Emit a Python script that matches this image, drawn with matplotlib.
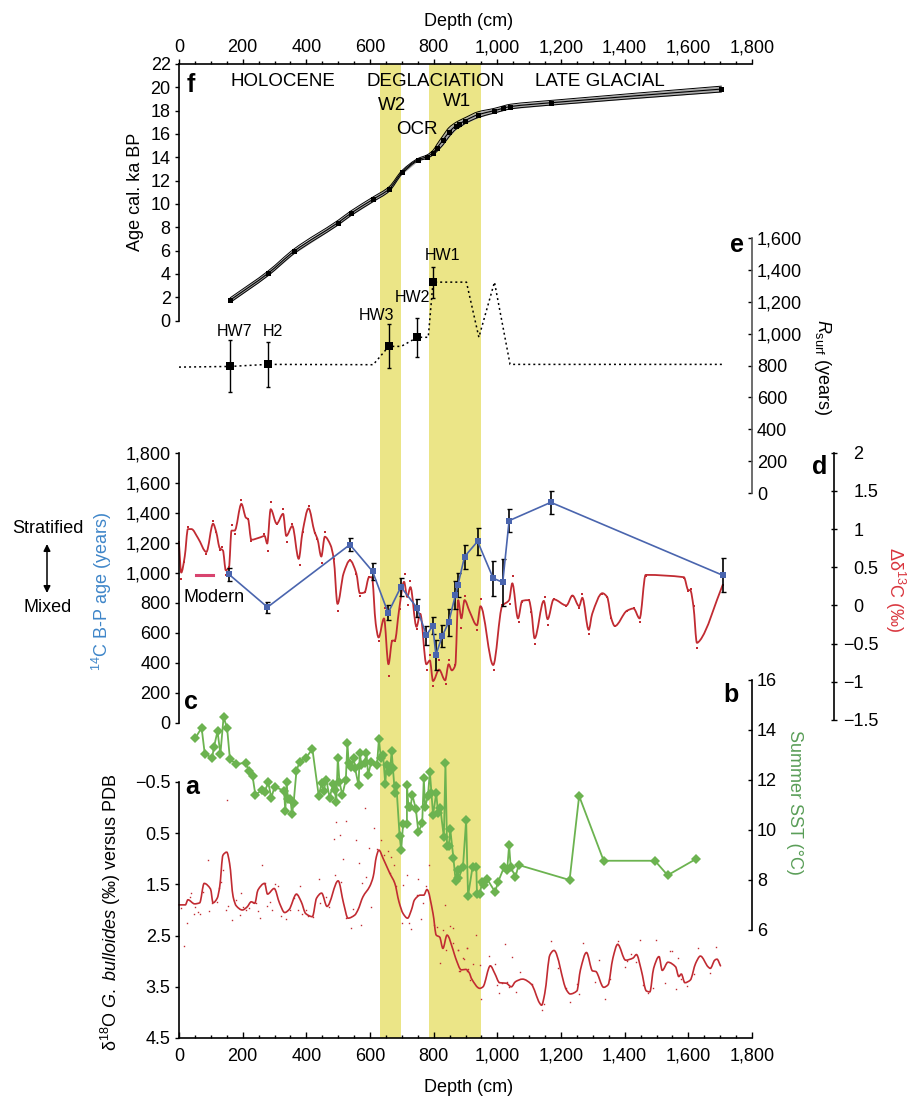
import matplotlib
matplotlib.use('Agg')
import matplotlib.pyplot as plt
import numpy as np
from matplotlib.path import Path
from matplotlib.patches import PathPatch, FancyArrowPatch
from matplotlib.transforms import Affine2D

plt.rcParams['font.family'] = ['Liberation Sans', 'DejaVu Sans']
plt.rcParams['mathtext.fontset'] = 'custom'
plt.rcParams['mathtext.rm'] = 'Liberation Sans'
plt.rcParams['mathtext.it'] = 'Liberation Sans:italic'
plt.rcParams['mathtext.bf'] = 'Liberation Sans:bold'

W, H = 907, 1096
X0, X1 = 179, 752

# f: age model
age_depth = [161, 280, 362, 500, 540, 610, 660, 700, 751, 779, 798, 810, 829, 848, 870, 880, 899, 939, 991, 1018, 1041, 1170, 1704]
age_ka = [1.75, 4.05, 5.95, 8.4, 9.2, 10.4, 11.27, 12.7, 13.8, 14.05, 14.4, 14.8, 15.45, 16.15, 16.7, 16.85, 17.15, 17.65, 18.0, 18.2, 18.35, 18.68, 19.85]
age_err = [0.2, 0.2, 0.2, 0.2, 0.2, 0.2, 0.2, 0.15, 0.1, 0.15, 0.2, 0.3, 0.4, 0.4, 0.3, 0.3, 0.25, 0.25, 0.2, 0.2, 0.2, 0.2, 0.25]

# e: Rsurf
rsurf_depth = [0, 160, 279, 610, 659, 698, 749, 783, 798, 903, 942, 991, 1040, 1711]
rsurf_val = [790, 794, 807, 805, 920, 920, 977, 977, 1323, 1323, 977, 1323, 807, 807]
hw_depth = [160, 279, 659, 749, 798]
hw_val = [794, 807, 920, 977, 1323]
hw_low = [635, 667, 786, 855, 1224]
hw_high = [958, 948, 1061, 1099, 1420]

# c: 14C B-P age
bp_depth = [157, 278, 537, 608, 657, 697, 748, 777, 797, 807, 827, 847, 868, 876, 897, 938, 987, 1017, 1037, 1168, 1708]
bp_age = [989, 770, 1187, 1009, 732, 905, 765, 583, 647, 452, 578, 669, 849, 916, 1107, 1209, 963, 936, 1347, 1469, 983]
bp_err = [45, 38, 42, 55, 50, 60, 60, 63, 58, 100, 72, 89, 93, 80, 80, 88, 118, 157, 75, 75, 112]
modern_depth = [53, 107]
modern_age = [985, 985]

# d: delta 13C gradient
d13_depth = [0, 7, 18, 28, 39, 60, 86, 107, 117, 128, 138, 147, 157, 165, 175, 196, 210, 217, 227, 254, 269, 277, 288, 307, 327,
             337, 356, 376, 388, 407, 426, 435, 447, 458, 476, 486, 498, 517, 537, 557, 568, 583, 597, 606, 618, 627, 644, 658,
             670, 678, 691, 707, 717, 727, 746, 758, 777, 788, 798, 817, 836, 847, 857, 868, 877, 887, 897, 913, 936, 947, 987,
             1015, 1037, 1047, 1065, 1078, 1099, 1107, 1117, 1146, 1158, 1177, 1217, 1236, 1257, 1267, 1287, 1298, 1330, 1345,
             1358, 1369, 1407, 1428, 1447, 1466, 1586, 1600, 1606, 1616, 1627, 1636, 1708]
d13_val = [0.81, 0.43, 0.64, 1.00, 1.00, 0.88, 0.70, 1.07, 0.96, 0.75, 0.72, 0.46, 0.50, 0.98, 0.98, 1.33, 1.15, 1.13, 0.86, 0.89, 0.91, 0.81, 1.26, 1.07, 1.20,
           0.91, 1.04, 0.61, 0.96, 1.27, 0.96, 0.87, 0.64, 0.90, 0.79, 0.61, 0.02, 0.42, 0.59, 0.42, 0.16, 0.17, 0.37, 0.37, -0.24, -0.42, -0.17, -0.77,
           -0.46, -0.46, -0.07, 0.31, 0.11, 0.24, -0.28, -0.11, -0.77, -0.72, -0.99, -0.84, -0.98, -0.77, -0.85, -0.78, 0.07, -0.17, 0.07, -0.08, -0.26, -0.01, -0.78,
           -0.01, 0.07, 0.29, -0.17, 0.06, 0.07, -0.08, -0.43, 0.06, -0.18, 0.08, 0.00, 0.13, -0.01, 0.10, -0.32, -0.11, 0.16, 0.11,
           -0.17, -0.27, -0.07, -0.04, -0.17, 0.40, 0.37, 0.20, 0.20, -0.01, -0.49, -0.46, 0.27]
d13_dot_depth = [0, 7, 17, 27, 86, 108, 117, 128, 136, 147, 157, 168, 177, 196, 217, 227, 268, 279, 288, 307, 328, 338, 356, 379, 388,
                 407, 428, 435, 448, 458, 486, 498, 537, 557, 568, 583, 597, 608, 627, 648, 659, 670, 678, 693, 709, 718, 727, 747,
                 758, 778, 788, 797, 817, 838, 847, 857, 868, 877, 887, 897, 948, 937, 988, 1016, 1039, 1048, 1067, 1078, 1098, 1107,
                 1117, 1149, 1158, 1177, 1217, 1236, 1258, 1267, 1287, 1330, 1346, 1358, 1369, 1407, 1428, 1447, 1466, 1587, 1600,
                 1607, 1617, 1626, 1708]
d13_dot_val = [0.83, 0.34, 0.57, 1.03, 0.67, 1.10, 0.96, 0.72, 0.76, 0.40, 0.50, 1.05, 0.93, 1.38, 1.13, 0.85, 0.93, 0.71, 1.35, 1.07, 1.26, 0.83, 1.07, 0.53, 0.96,
               1.30, 0.95, 0.87, 0.55, 0.96, 0.61, -0.07, 0.59, 0.41, 0.13, 0.17, 0.37, 0.43, -0.46, -0.03, -0.92, -0.46, -0.46, -0.05, 0.41, 0.01, 0.32, -0.31,
               -0.11, -0.84, -0.65, -1.05, -0.72, -1.03, -0.71, -0.85, -0.78, 0.27, -0.29, 0.13, 0.08, -0.32, -0.84, 0.00, 0.02, 0.38, -0.22, 0.05, 0.07, -0.08,
               -0.51, 0.11, -0.25, 0.08, -0.01, 0.13, -0.03, 0.15, -0.38, 0.15, 0.11, -0.16, -0.27, -0.07, -0.04, -0.22, 0.39, 0.36, 0.19,
               0.21, -0.01, -0.56, 0.27]

# b: summer SST
sst_depth = [51, 71, 81, 104, 110, 121, 130, 140, 151, 160, 180, 210, 219, 231, 240, 260, 270, 280, 290, 300, 330, 334, 338, 342, 350,
             355, 360, 369, 379, 399, 419, 439, 448, 454, 463, 473, 484, 489, 494, 499, 504, 513, 524, 529, 533, 540, 549, 553,
             564, 568, 573, 583, 589, 594, 604, 622, 628, 634, 641, 648, 652, 659, 664, 668, 672, 678, 683, 693, 698, 704, 716,
             716, 721, 727, 733, 744, 752, 764, 769, 773, 782, 788, 793, 798, 808, 814, 821, 832, 837, 842, 848, 852, 862, 869,
             875, 878, 892, 902, 908, 922, 934, 936, 945, 952, 958, 968, 993, 1002, 1021, 1031, 1037, 1042, 1057, 1067, 1227,
             1257, 1334, 1495, 1535, 1624]
sst_val = [13.67, 14.09, 13.04, 12.89, 13.33, 13.95, 13.04, 14.51, 14.09, 12.83, 12.64, 12.69, 12.36, 12.16, 11.40, 11.60, 11.53, 11.93, 11.28, 11.73, 11.57, 10.75, 11.92, 11.25, 11.23,
           10.64, 11.07, 12.37, 12.73, 12.89, 13.24, 11.36, 11.87, 11.56, 12.00, 11.29, 11.84, 11.60, 11.13, 12.89, 11.93, 11.40, 12.00, 13.49, 12.69, 12.51, 12.87, 12.47,
           11.79, 13.09, 12.60, 12.67, 13.09, 12.20, 12.73, 12.60, 13.64, 12.87, 13.00, 11.84, 12.60, 12.33, 12.53, 13.16, 12.47, 11.49, 11.76, 9.76, 9.20, 10.24, 10.24,
           11.79, 10.91, 10.91, 11.40, 10.84, 9.92, 10.27, 12.07, 10.91, 11.36, 12.33, 11.49, 10.60, 11.47, 10.67, 10.87, 9.71, 12.67, 9.36, 9.36, 10.05, 8.88, 7.97,
           8.40, 8.07, 8.51, 10.40, 7.36, 8.51, 8.51, 7.44, 7.44, 7.91, 7.80, 8.04, 7.52, 7.91, 8.51, 8.40, 9.40, 8.51, 8.13, 8.60, 8.00,
           11.36, 8.77, 8.77, 8.19, 8.84]

# a: d18O G. bulloides
d18_depth = [0, 20, 28, 49, 65, 79, 99, 107, 120, 128, 138, 150, 159, 170, 180, 199, 214, 227, 238, 248, 269, 278, 299, 316, 332,
             346, 369, 384, 398, 419, 432, 448, 465, 500, 517, 531, 552, 562, 578, 599, 610, 620, 628, 641, 662, 678, 691, 704,
             718, 730, 740, 758, 769, 779, 798, 808, 819, 829, 842, 861, 869, 887, 901, 913, 918, 945, 955, 978, 992, 1007, 1028,
             1044, 1057, 1079, 1107, 1133, 1139, 1149, 1165, 1178, 1217, 1229, 1250, 1261, 1280, 1299, 1309, 1334, 1348, 1363,
             1378, 1403, 1426, 1437, 1452, 1468, 1479, 1491, 1508, 1518, 1536, 1560, 1570, 1578, 1589, 1606, 1623, 1638, 1662,
             1669, 1683, 1690, 1701]
d18_val = [1.90, 1.90, 1.80, 1.88, 1.86, 1.48, 1.59, 1.86, 1.77, 1.54, 0.93, 0.87, 1.09, 1.74, 1.92, 2.00, 1.94, 1.84, 1.87, 1.61, 1.48, 1.69, 1.58, 1.87, 2.05,
           1.99, 1.69, 1.84, 2.07, 2.13, 1.77, 1.67, 1.93, 1.43, 1.87, 2.16, 2.10, 2.00, 1.74, 1.54, 1.35, 0.96, 0.83, 0.99, 1.28, 1.48, 1.84, 2.07,
           2.16, 2.00, 1.80, 1.71, 1.71, 1.60, 2.07, 2.49, 2.53, 2.75, 2.49, 2.78, 2.94, 3.17, 3.16, 3.24, 3.33, 3.53, 3.50, 3.09, 3.24, 3.42, 3.43,
           3.50, 3.40, 3.35, 3.45, 3.82, 3.86, 3.63, 2.88, 2.79, 3.56, 3.64, 3.58, 3.17, 2.83, 3.19, 3.20, 3.51, 3.46, 2.94,
           2.67, 2.98, 2.94, 2.87, 3.17, 3.58, 3.60, 3.14, 2.91, 3.18, 3.02, 3.11, 3.30, 3.25, 3.42, 3.37, 3.04, 2.90, 3.11,
           3.14, 2.98, 2.96, 3.09]
d18_dot_depth = [7, 25, 15, 39, 36, 46, 49, 60, 65, 74, 90, 95, 105, 118, 125, 133, 138, 147, 150, 154, 165, 178, 191, 196, 201,
                 210, 220, 231, 241, 249, 254, 260, 269, 277, 285, 293, 300, 311, 320, 335, 348, 360, 367, 374, 380, 386, 398, 405,
                 421, 440, 444, 463, 471, 486, 490, 494, 505, 510, 514, 525, 526, 540, 546, 555, 565, 571, 575, 585, 589, 596, 602,
                 614, 622, 635, 643, 656, 662, 665, 675, 683, 700, 704, 715, 723, 730, 747, 752, 759, 765, 777, 785, 800, 812, 821,
                 830, 835, 840, 850, 861, 876, 892, 884, 906, 905, 860, 875, 894, 904, 881, 908, 925, 915, 934, 944, 948, 974, 993,
                 1004, 999, 1015, 1025, 1030, 1038, 1045, 1059, 1070, 1109, 1148, 1139, 1169, 1190, 1216, 1229, 1250, 1258, 1269,
                 1307, 1319, 1339, 1353, 1379, 1400, 1408, 1419, 1436, 1449, 1459, 1473, 1489, 1499, 1528, 1541, 1548, 1560, 1569,
                 1578, 1596, 1617, 1630, 1669, 1688]
d18_dot_val = [1.97, 2.25, 2.70, 1.66, 1.74, 2.08, 1.95, 2.03, 2.08, 1.64, 1.03, 2.02, 1.86, 1.84, 1.58, 1.46, 1.22, 2.00, -0.14, 1.92, 2.20, 1.80, 2.10, 1.66, 1.95,
               2.00, 1.97, 1.84, 1.87, 2.01, 2.16, 1.12, 1.48, 1.92, 1.84, 2.00, 1.49, 1.54, 2.12, 2.18, 2.00, 1.77, 1.69, 2.00, 1.54, 2.08, 2.00, 2.12,
               2.14, 1.40, 1.86, 1.74, 1.95, 0.62, 1.32, 0.29, 0.54, 1.45, 1.00, 0.26, 2.16, 2.35, 1.98, 0.63, 1.08, 2.29, 1.48, 0.00, 1.35, 0.78, 1.95,
               0.40, 0.81, 0.63, 0.93, 0.84, 1.28, 0.96, 1.12, 1.54, 2.25, 1.51, 1.31, 2.26, 2.38, 1.71, 1.40, 2.18, 1.87, 1.54, 1.12, 2.29, 2.33, 3.03,
               2.39, 1.90, 2.78, 2.31, 2.36, 2.78, 2.94, 3.20, 2.75, 3.20, 2.65, 2.79, 2.96, 2.74, 3.20, 3.16, 3.05, 3.37, 2.49, 3.07, 3.73, 2.89, 3.05,
               3.63, 3.46, 3.43, 2.66, 3.40, 3.50, 2.92, 3.61, 3.22, 3.45, 3.84, 3.95, 2.60, 3.14, 3.53, 3.79, 3.45, 3.65, 2.64,
               3.40, 2.98, 3.74, 3.34, 2.60, 3.11, 2.99, 2.86, 3.01, 2.59, 3.46, 3.63, 3.53, 2.58, 3.43, 2.81, 2.81, 3.55, 2.94,
               3.35, 3.48, 3.25, 2.75, 3.24, 2.72]

band_edges = [(631, 697), (785, 949)]
x_ticks = list(range(0, 1801, 200))
x_minor = list(range(0, 1801, 50))
x_labels = ['0', '200', '400', '600', '800', '1,000', '1,200', '1,400', '1,600', '1,800']

RED = '#C12B32'
BLUE = '#4A65AE'
GREEN = '#6CB350'
YELLOW = '#EBE587'
FS = 13

fig = plt.figure(figsize=(W / 100, H / 100), dpi=100)


def panel(top, bottom, ylim, yticks, ylabels, side, zorder=2):
    ax = fig.add_axes([X0 / W, 1 - bottom / H, (X1 - X0) / W, (bottom - top) / H])
    ax.patch.set_alpha(0)
    ax.set_zorder(zorder)
    ax.set_xlim(0, 1800)
    ax.set_ylim(*ylim)
    for s in ax.spines.values():
        s.set_visible(False)
    ax.spines[side].set_visible(True)
    ax.spines[side].set_linewidth(1.2)
    ax.set_xticks([])
    ax.set_yticks(yticks)
    ax.set_yticklabels(ylabels, fontsize=FS)
    ax.yaxis.set_ticks_position(side)
    if side == 'right':
        ax.tick_params(axis='y', direction='in', length=3, width=1, pad=3.5)
    else:
        ax.tick_params(axis='y', length=3, width=1, pad=3)
    return ax


def smooth_line(ax, x, y, **kw):
    # the original lines are smoothed curves through the points, no overshoot at peaks
    x = np.asarray(x, dtype=float)
    y = np.asarray(y, dtype=float)
    dx = np.diff(x)
    s = np.diff(y) / dx
    m = np.zeros(len(x))
    m[0], m[-1] = s[0], s[-1]
    same = s[:-1] * s[1:] > 0
    m[1:-1][same] = 2 * s[:-1][same] * s[1:][same] / (s[:-1][same] + s[1:][same])
    verts = [(x[0], y[0])]
    for i in range(len(dx)):
        h = dx[i] / 3
        verts += [(x[i] + h, y[i] + m[i] * h), (x[i + 1] - h, y[i + 1] - m[i + 1] * h), (x[i + 1], y[i + 1])]
    codes = [Path.MOVETO] + [Path.CURVE4] * (len(verts) - 1)
    ax.add_patch(PathPatch(Path(verts, codes), fill=False, capstyle='round', joinstyle='round', **kw))


# yellow bands sit behind every panel
bg = fig.add_axes([X0 / W, 1 - 1038 / H, (X1 - X0) / W, (1038 - 64) / H])
bg.set_zorder(0)
bg.set_xlim(0, 1800)
bg.axis('off')
for a, b in band_edges:
    bg.axvspan(a, b, color=YELLOW, lw=0)

# panel a
ax_a = panel(782, 1038, (4.5, -0.5), [-0.5, 0.5, 1.5, 2.5, 3.5, 4.5],
             ['\u22120.5', '0.5', '1.5', '2.5', '3.5', '4.5'], 'left')
ax_a.spines['bottom'].set_visible(True)
ax_a.spines['bottom'].set_linewidth(1.2)
ax_a.set_xticks(x_ticks)
ax_a.set_xticklabels(x_labels, fontsize=FS)
ax_a.set_xticks(x_minor, minor=True)
ax_a.tick_params(axis='x', which='major', direction='in', length=4, width=1, pad=7)
ax_a.tick_params(axis='x', which='minor', direction='in', length=2.5, width=1)
smooth_line(ax_a, d18_depth, d18_val, color=RED, lw=1.2, clip_on=False)
ax_a.plot(d18_dot_depth, d18_dot_val, ls='', marker='s', ms=1, color=RED, mew=0, clip_on=False)

# panel b
ax_b = panel(680, 930, (6, 16), [6, 8, 10, 12, 14, 16], ['6', '8', '10', '12', '14', '16'], 'right')
ax_b.plot(sst_depth, sst_val, color=GREEN, lw=1.3, marker='D', ms=4.6, mew=0, clip_on=False)

# panel c
ax_c = panel(452.7, 722.7, (0, 1800), list(range(0, 1801, 200)),
             ['0', '200', '400', '600', '800', '1,000', '1,200', '1,400', '1,600', '1,800'], 'left', zorder=4)
ax_c.plot(modern_depth, modern_age, color='#D8446F', lw=2.2)
ax_c.errorbar(bp_depth, bp_age, yerr=bp_err, color='black', ls='', lw=1.2, capsize=1.8, capthick=1)
ax_c.plot(bp_depth, bp_age, color=BLUE, lw=1.2, marker='s', ms=3.8, mew=0)

# panel d, its axis stands off to the right
ax_d = panel(452.7, 720, (-1.5, 2), [-1.5, -1, -0.5, 0, 0.5, 1, 1.5, 2],
             ['\u22121.5', '\u22121', '\u22120.5', '0', '0.5', '1', '1.5', '2'], 'right', zorder=3)
ax_d.spines['right'].set_position(('outward', 59))
ax_d.tick_params(axis='y', direction='inout', length=4, width=1, pad=12, labelsize=FS)
for lbl in ax_d.get_yticklabels():
    if lbl.get_text().startswith('\u2212'):
        # digits stay aligned, the minus hangs out to the left
        lbl.set_transform(lbl.get_transform() + Affine2D().translate(-10.5, 0))
smooth_line(ax_d, d13_depth, d13_val, color=RED, lw=1.3, clip_on=False)
ax_d.plot(d13_dot_depth, d13_dot_val, ls='', marker='s', ms=1.6, color=RED, mew=0, clip_on=False)

# panel e
ax_e = panel(238, 493, (0, 1600), list(range(0, 1601, 200)),
             ['0', '200', '400', '600', '800', '1,000', '1,200', '1,400', '1,600'], 'right')
ax_e.spines['right'].set_color('#555555')
ax_e.plot(rsurf_depth, rsurf_val, color='black', lw=1.1, ls=(0, (1.3, 2)))
ax_e.errorbar(hw_depth, hw_val,
              yerr=[[v - l for v, l in zip(hw_val, hw_low)], [h - v for v, h in zip(hw_val, hw_high)]],
              color='black', ls='', lw=1, capsize=1.5, capthick=1)
ax_e.plot(hw_depth, hw_val, ls='', marker='s', ms=5.8, color='black', mew=0)

# panel f
ax_f = panel(64, 320.5, (0, 22), list(range(0, 23, 2)), [str(v) for v in range(0, 23, 2)], 'left')
ax_f.spines['top'].set_visible(True)
ax_f.spines['top'].set_linewidth(1.2)
ax_f.set_xticks(x_ticks)
ax_f.set_xticklabels(x_labels, fontsize=FS)
ax_f.set_xticks(x_minor, minor=True)
ax_f.xaxis.set_ticks_position('top')
ax_f.tick_params(axis='x', which='major', length=3.5, width=1, pad=2)
ax_f.tick_params(axis='x', which='minor', length=2, width=1)
upper = [a + e for a, e in zip(age_ka, age_err)]
lower = [a - e for a, e in zip(age_ka, age_err)]
ax_f.fill_between(age_depth, lower, upper, color='#aaaaaa', lw=0)
smooth_line(ax_f, age_depth, upper, color='black', lw=0.7)
smooth_line(ax_f, age_depth, lower, color='black', lw=0.7)
smooth_line(ax_f, age_depth, age_ka, color='black', lw=0.8)
ax_f.plot(age_depth, age_ka, ls='', marker='s', ms=3.6, color='black', mew=0)


def px_text(x, y, s, **kw):
    kw.setdefault('fontsize', FS)
    kw.setdefault('ha', 'center')
    kw.setdefault('va', 'center')
    fig.text(x / W, 1 - y / H, s, zorder=10, **kw)


# labels inside the chart
for x, y, s in [(283, 82, 'HOLOCENE'), (436, 81, 'DEGLACIATION'), (600, 81, 'LATE GLACIAL'),
                (392, 105, 'W2'), (457, 102, 'W1'), (417, 130, 'OCR')]:
    px_text(x, y, s, fontsize=13.5)
for x, y, s in [(234, 331, 'HW7'), (273, 331, 'H2'), (376, 316, 'HW3'), (412, 297, 'HW2'), (443, 255, 'HW1'),
                (214, 597, 'Modern')]:
    px_text(x, y, s, fontsize=FS if s == 'Modern' else 11.5)
for x, y, s in [(191, 85, 'f'), (737, 245, 'e'), (820, 467, 'd'), (191, 702, 'c'), (731, 695, 'b'), (192, 787, 'a')]:
    px_text(x, y, s, fontsize=18, fontweight='bold')

# axis titles
px_text(469, 21, 'Depth (cm)')
px_text(469, 1087, 'Depth (cm)')
px_text(136, 192, 'Age cal. ka BP', rotation=90)
px_text(822, 367, r'$\mathit{R}_{\mathrm{surf}}$ (years)', rotation=270)
px_text(102, 591, r'$^{14}$C B-P age (years)', rotation=90, color='#3F86C9')
px_text(895, 590, r'Δδ$^{13}$C (‰)', rotation=270, color='#D9363E')
px_text(795, 802, 'Summer SST (°C)', rotation=270, color='#5A9E58')
px_text(111, 912, r'δ$^{18}$O $\mathit{G.\ bulloides}$ (‰) versus PDB', rotation=90)

# stratified / mixed arrow
px_text(48, 528, 'Stratified')
px_text(48, 608, 'Mixed')
fig.add_artist(FancyArrowPatch((47 / W, 1 - 544 / H), (47 / W, 1 - 593 / H), transform=fig.transFigure,
                               arrowstyle='<|-|>', mutation_scale=10, color='black', lw=1.1,
                               shrinkA=0, shrinkB=0))

fig.savefig('out.png', dpi=100)
